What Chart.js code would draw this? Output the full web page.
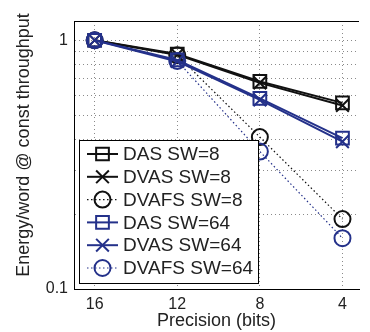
<!DOCTYPE html>
<html>
<head>
<meta charset="utf-8">
<script src="https://cdn.jsdelivr.net/npm/chart.js@4.4.1/dist/chart.umd.min.js"></script>
<style>
html,body{margin:0;padding:0;background:#fff;overflow:hidden}
</style>
</head>
<body>
<canvas id="precChart" width="370" height="332"></canvas>
<script>
const bits = [16, 12, 8, 4];
const dasSw8 = [1, 0.88, 0.683, 0.56];
const dvasSw8 = [1, 0.873, 0.674, 0.547];
const dvafsSw8 = [1, 0.87, 0.408, 0.191];
const dasSw64 = [1, 0.833, 0.584, 0.404];
const dvasSw64 = [1, 0.822, 0.576, 0.391];
const dvafsSw64 = [1, 0.826, 0.357, 0.16];
const yGrid = [0.1, 0.2, 0.3, 0.4, 0.5, 0.6, 0.7, 0.8, 0.9, 1];
const yLabels = [0.1, 1];

const BLACK = '#111111';
const BLUE = '#24318a';

Chart.defaults.font.family = '"Liberation Sans", Arial, sans-serif';
Chart.defaults.color = '#222';

function pts(vals){ return bits.map((b, i) => ({x: b, y: vals[i]})); }

function series(label, vals, color, style, dotted, order){
  return {
    label: label,
    data: pts(vals),
    borderColor: color,
    backgroundColor: 'rgba(0,0,0,0)',
    borderWidth: dotted ? 1.2 : 2,
    borderDash: dotted ? [1.5, 2.5] : [],
    pointStyle: style,
    pointRadius: style === 'circle' ? 8 : 9,
    pointBorderWidth: 2,
    pointBorderColor: color,
    pointBackgroundColor: 'rgba(0,0,0,0)',
    order: order
  };
}

function marker(ctx, style, x, y, r){
  ctx.beginPath();
  const s = r * Math.SQRT1_2;
  if (style === 'rect') ctx.rect(x - s, y - s, 2 * s, 2 * s);
  else if (style === 'crossRot') { ctx.moveTo(x - s, y - s); ctx.lineTo(x + s, y + s); ctx.moveTo(x - s, y + s); ctx.lineTo(x + s, y - s); }
  else ctx.arc(x, y, r, 0, Math.PI * 2);
  ctx.stroke();
}

// legend box inside the plot + top frame line, matlab style
const boxLegend = {
  id: 'boxLegend',
  afterDraw(chart){
    const ctx = chart.ctx, a = chart.chartArea;
    ctx.save();
    ctx.strokeStyle = '#000'; ctx.lineWidth = 1;
    ctx.beginPath(); ctx.moveTo(a.left, a.top + 0.5); ctx.lineTo(a.right, a.top + 0.5); ctx.stroke();

    const x0 = 79, y0 = 140, w = 179, h = 143, rowH = 22.8;
    ctx.fillStyle = '#fff'; ctx.fillRect(x0, y0, w, h);
    ctx.strokeRect(x0 + 0.5, y0 + 0.5, w, h);
    ctx.font = '19px "Liberation Sans", Arial, sans-serif';
    ctx.textBaseline = 'middle';
    chart.data.datasets.forEach((ds, i) => {
      const cy = y0 + 14 + i * rowH;
      ctx.strokeStyle = ds.borderColor;
      ctx.lineWidth = ds.borderWidth;
      ctx.setLineDash(ds.borderDash);
      ctx.beginPath(); ctx.moveTo(87, cy); ctx.lineTo(118, cy); ctx.stroke();
      ctx.setLineDash([]);
      ctx.lineWidth = ds.pointBorderWidth;
      marker(ctx, ds.pointStyle, 102.5, cy, ds.pointRadius);
      ctx.fillStyle = '#222';
      ctx.fillText(ds.label, 123, cy + 1);
    });
    ctx.restore();
  }
};

new Chart(document.getElementById('precChart'), {
  type: 'line',
  data: {
    datasets: [
      series('DAS SW=8', dasSw8, BLACK, 'rect', false, 2),
      series('DVAS SW=8', dvasSw8, BLACK, 'crossRot', false, 2),
      series('DVAFS SW=8', dvafsSw8, BLACK, 'circle', true, 2),
      series('DAS SW=64', dasSw64, BLUE, 'rect', false, 1),
      series('DVAS SW=64', dvasSw64, BLUE, 'crossRot', false, 1),
      series('DVAFS SW=64', dvafsSw64, BLUE, 'circle', true, 1)
    ]
  },
  options: {
    responsive: false, animation: false, devicePixelRatio: 1,
    layout: { padding: { top: 21, right: 0, left: 0, bottom: 0 } },
    plugins: { legend: { display: false }, tooltip: { enabled: false } },
    scales: {
      x: {
        type: 'linear', reverse: true, min: 3.2, max: 17,
        afterBuildTicks: s => { s.ticks = bits.map(v => ({value: v})); },
        afterFit: s => { s.height = 43; },
        ticks: { font: { size: 16 }, padding: 6, maxRotation: 0, color: '#222' },
        grid: { color: '#8a8a8a', lineWidth: 1, drawTicks: false },
        border: { color: '#000', width: 1, dash: [1, 3] },
        title: { display: true, text: 'Precision (bits)', font: { size: 18 }, padding: { top: 0, bottom: 0 }, color: '#222' }
      },
      y: {
        type: 'logarithmic', min: 0.1, max: 1.195,
        afterBuildTicks: s => { s.ticks = yGrid.map(v => ({value: v})); },
        afterFit: s => { s.width = 74; },
        ticks: { font: { size: 16 }, padding: 6, color: '#222',
          callback: v => yLabels.includes(v) ? String(v) : '' },
        grid: { color: '#8a8a8a', lineWidth: 1, drawTicks: false },
        border: { color: '#000', width: 1, dash: [1, 3] },
        title: { display: true, text: '    Energy/word @ const throughput', font: { size: 18 }, padding: { top: 13, bottom: 0 }, color: '#222' }
      }
    }
  },
  plugins: [boxLegend]
});
</script>
</body>
</html>
